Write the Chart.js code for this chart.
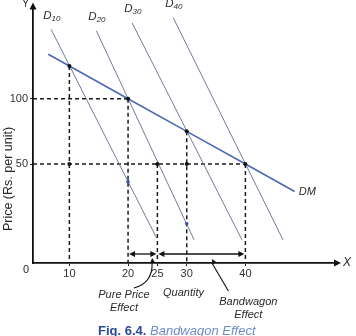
<!DOCTYPE html>
<html>
<head>
<meta charset="utf-8">
<script src="https://cdn.jsdelivr.net/npm/chart.js@4"></script>
<style>
  html, body { margin: 0; padding: 0; background: #fff; }
  #wrap { width: 356px; height: 336px; }
</style>
</head>
<body>
<div id="wrap"><canvas id="chart" width="356" height="336"></canvas></div>
<script>
// tick labels
const qtyTicks = [10, 20, 25, 30, 40];
const priceTicks = [50, 100];

// market demand curve DM
const dmQty = [6.4, 10, 20, 30, 40, 48.4];
const dmPrice = [134, 125, 100, 75, 50, 29];

// individual demand curves D10..D40 (start / end)
const demandLabels = ['10', '20', '30', '40'];
const demandStartQty = [6.9, 14.6, 20.7, 27.7];
const demandStartPrice = [153, 152, 158, 162];
const demandEndQty = [24.9, 31.25, 39.4, 46.4];
const demandEndPrice = [-7, -8, -8, -8];

// dashed guides
const guidePrice = [100, 50];
const guidePriceTo = [20, 40];
const guideQty = [10, 20, 25, 30, 40];
const guideQtyFrom = [125, 100, 50, 75, 50];

// dots
const dotQty = [10, 20, 30, 40, 10, 25, 30];
const dotPrice = [125, 100, 75, 50, 50, 50, 50];
const blueQty = [20, 30];
const bluePrice = [36.5, 4.2];

// effect arrows along the axis
const effectFrom = [20, 25];
const effectTo = [25, 40];

const X_MIN = 3.8, X_MAX = 55.1, Y_MIN = -25.8, Y_MAX = 169;
const FONT = '"Liberation Sans", Arial, sans-serif';

const pts = (xs, ys) => xs.map((v, i) => ({ x: v, y: ys[i] }));

const datasets = [];
datasets.push({ data: pts(dotQty, dotPrice), pointRadius: 2, pointBackgroundColor: '#111', pointBorderWidth: 0, showLine: false });
datasets.push({ data: pts(blueQty, bluePrice), pointRadius: 1.8, pointBackgroundColor: '#3a55b0', pointBorderWidth: 0, showLine: false });
datasets.push({ data: pts(dmQty, dmPrice), showLine: true, borderColor: '#4d69b5', borderWidth: 1.6, pointRadius: 0 });
demandLabels.forEach((_, i) => {
  datasets.push({
    data: [{ x: demandStartQty[i], y: demandStartPrice[i] }, { x: demandEndQty[i], y: demandEndPrice[i] }],
    showLine: true, borderColor: '#737a96', borderWidth: 1, pointRadius: 0
  });
});
guidePrice.forEach((p, i) => {
  datasets.push({
    data: [{ x: X_MIN, y: p }, { x: guidePriceTo[i], y: p }],
    showLine: true, borderColor: '#1a1a1a', borderWidth: 1.5, borderDash: [4, 3], pointRadius: 0
  });
});
guideQty.forEach((q, i) => {
  datasets.push({
    data: [{ x: q, y: guideQtyFrom[i] }, { x: q, y: Y_MIN }],
    showLine: true, borderColor: '#1a1a1a', borderWidth: 1.5, borderDash: [4, 3], pointRadius: 0
  });
});

function head(ctx, x, y, ang, len, w) {
  ctx.beginPath();
  ctx.moveTo(x, y);
  ctx.lineTo(x - len * Math.cos(ang) + w * Math.sin(ang), y - len * Math.sin(ang) - w * Math.cos(ang));
  ctx.lineTo(x - len * Math.cos(ang) - w * Math.sin(ang), y - len * Math.sin(ang) + w * Math.cos(ang));
  ctx.closePath();
  ctx.fill();
}

const overlay = {
  id: 'overlay',
  afterDraw(chart) {
    const { ctx, chartArea: a, scales: { x, y } } = chart;
    const px = v => x.getPixelForValue(v);
    const py = v => y.getPixelForValue(v);
    ctx.save();
    ctx.fillStyle = '#111';
    ctx.strokeStyle = '#111';

    // axis arrows
    ctx.lineWidth = 1.8;
    ctx.beginPath(); ctx.moveTo(a.left, a.top); ctx.lineTo(a.left, a.top - 3); ctx.stroke();
    head(ctx, a.left, a.top - 6, -Math.PI / 2, 7, 3.5);
    ctx.beginPath(); ctx.moveTo(a.right, a.bottom); ctx.lineTo(a.right + 3, a.bottom); ctx.stroke();
    head(ctx, a.right + 7, a.bottom, 0, 7, 3.5);

    // effect arrows
    const ay = a.bottom - 9;
    ctx.lineWidth = 1.3;
    effectFrom.forEach((f, i) => {
      const x1 = px(f) + 1, x2 = px(effectTo[i]) - 1;
      ctx.beginPath(); ctx.moveTo(x1 + 4, ay); ctx.lineTo(x2 - 4, ay); ctx.stroke();
      head(ctx, x1, ay, Math.PI, 6, 3);
      head(ctx, x2, ay, 0, 6, 3);
    });

    // leaders
    ctx.lineWidth = 1.1;
    let ex = px(24.1), ey = a.bottom - 5;
    ctx.beginPath();
    ctx.moveTo(px(19.3) + 10, a.bottom + 25);
    ctx.quadraticCurveTo(ex + 1, a.bottom + 20, ex, ey + 4);
    ctx.stroke();
    head(ctx, ex, ey, -Math.PI / 2 - 0.1, 5, 2.5);
    const bx1 = px(37.1), by1 = a.bottom + 28, bx2 = px(34.3), by2 = a.bottom - 4;
    ctx.beginPath(); ctx.moveTo(bx1, by1); ctx.lineTo(bx2, by2 + 4); ctx.stroke();
    head(ctx, bx2, by2, Math.atan2(by2 - by1, bx2 - bx1), 5, 2.5);

    // texts
    ctx.fillStyle = '#2a2a2a';
    ctx.textBaseline = 'middle';
    ctx.font = 'italic 11px ' + FONT;
    ctx.textAlign = 'center';
    ctx.fillText('Pure Price', px(19.3), a.bottom + 32);
    ctx.fillText('Effect', px(19.3), a.bottom + 45);
    ctx.fillText('Bandwagon', px(40.5), a.bottom + 39);
    ctx.fillText('Effect', px(40.5), a.bottom + 52);
    ctx.textAlign = 'left';
    ctx.fillText('DM', px(dmQty[dmQty.length - 1]) + 4, py(dmPrice[dmPrice.length - 1]) + 1);
    ctx.font = 'italic 12px ' + FONT;
    ctx.fillText('X', a.right + 9, a.bottom);
    ctx.textAlign = 'right';
    ctx.font = '10px ' + FONT;
    ctx.fillText('Y', a.left - 4, 4);
    ctx.font = '11px ' + FONT;
    ctx.fillText('0', a.left - 4, a.bottom + 7);

    // demand labels
    demandLabels.forEach((s, i) => {
      const lx = px(demandStartQty[i]) - 8;
      const ly = Math.max(py(demandStartPrice[i]) - 14, 3);
      ctx.textAlign = 'left';
      ctx.font = 'italic 11.5px ' + FONT;
      ctx.fillText('D', lx, ly);
      const w = ctx.measureText('D').width;
      ctx.font = 'italic 8px ' + FONT;
      ctx.fillText(s, lx + w, ly + 3);
    });

    // y title
    ctx.save();
    ctx.translate(9, 179);
    ctx.rotate(-Math.PI / 2);
    ctx.textAlign = 'center';
    ctx.font = '12.5px ' + FONT;
    ctx.fillText('Price (Rs. per unit)', 0, 0);
    ctx.restore();

    // caption
    ctx.textAlign = 'left';
    ctx.font = 'bold 13px ' + FONT;
    ctx.fillStyle = '#2c4a9c';
    const cap1 = 'Fig. 6.4.';
    ctx.fillText(cap1, 98, 331);
    const cw = ctx.measureText(cap1 + ' ').width;
    ctx.font = 'italic 13px ' + FONT;
    ctx.fillStyle = '#6d8cca';
    ctx.fillText('Bandwagon Effect', 98 + cw, 331);
    ctx.restore();
  }
};

new Chart(document.getElementById('chart'), {
  type: 'scatter',
  data: { datasets },
  options: {
    responsive: false,
    animation: false,
    layout: { padding: { top: 6, right: 22, left: 0, bottom: 0 } },
    plugins: { legend: { display: false }, tooltip: { enabled: false } },
    scales: {
      x: {
        type: 'linear', min: X_MIN, max: X_MAX,
        afterBuildTicks: s => { s.ticks = qtyTicks.map(v => ({ value: v })); },
        afterFit: s => { s.height = 73; },
        ticks: { autoSkip: false, maxRotation: 0, padding: 1, color: '#333', font: { family: FONT, size: 11 } },
        grid: { drawOnChartArea: false, drawTicks: true, tickLength: 3, color: '#222' },
        border: { color: '#111', width: 1.8 },
        title: { display: true, text: 'Quantity', color: '#2a2a2a', font: { family: FONT, size: 11, style: 'italic' }, padding: { top: 36, bottom: 36 } }
      },
      y: {
        type: 'linear', min: Y_MIN, max: Y_MAX,
        afterBuildTicks: s => { s.ticks = priceTicks.map(v => ({ value: v })); },
        afterFit: s => { s.width = 33; },
        ticks: { padding: 2, color: '#333', font: { family: FONT, size: 11 } },
        grid: { drawOnChartArea: false, drawTicks: true, tickLength: 3, color: '#222' },
        border: { color: '#111', width: 1.8 }
      }
    }
  },
  plugins: [overlay]
});
</script>
</body>
</html>
